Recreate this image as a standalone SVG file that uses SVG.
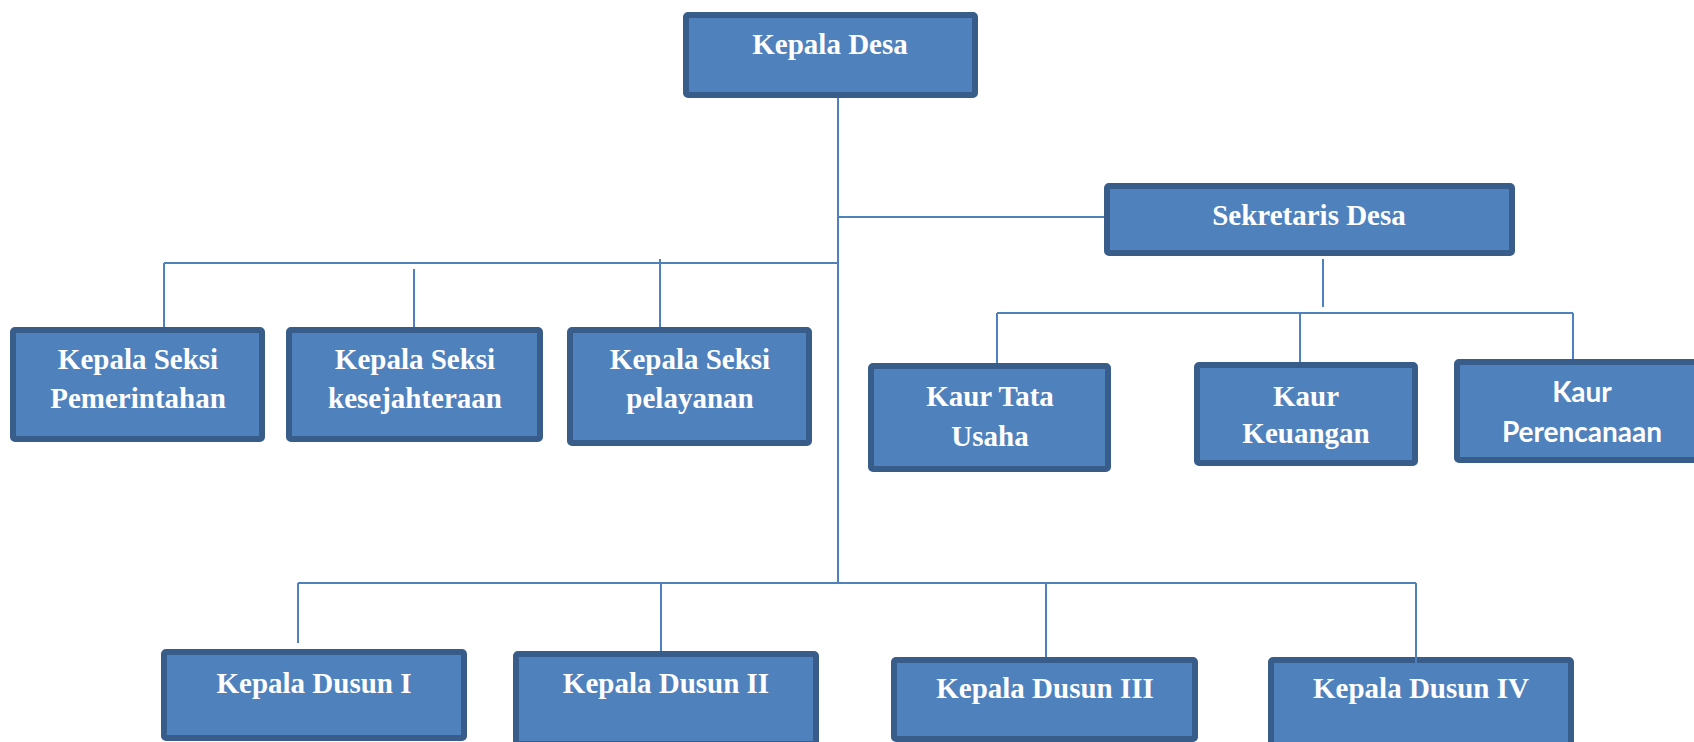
<svg xmlns="http://www.w3.org/2000/svg" width="1694" height="742" viewBox="0 0 1694 742">
<style>
.box{fill:#4F81BD;stroke:#385D8A;stroke-width:6;}
.t{font-family:"Liberation Serif","Times New Roman",serif;font-weight:bold;font-size:29px;fill:#FFFFFF;text-anchor:middle;}
.s{font-family:Lato,"Liberation Sans",sans-serif;font-weight:bold;font-size:28px;fill:#FFFFFF;text-anchor:middle;}
.c{stroke:#4F81BD;stroke-width:2;fill:none;}
</style>
<rect width="1694" height="742" fill="#FFFFFF"/>
<g id="kepala-desa"><rect class="box" x="686" y="15" width="289" height="80" rx="2"/><text class="t" x="830" y="54">Kepala Desa</text></g>
<g id="sekretaris-desa"><rect class="box" x="1107" y="186" width="405" height="67" rx="2"/><text class="t" x="1309" y="225">Sekretaris Desa</text></g>
<g id="seksi-pemerintahan"><rect class="box" x="13" y="330" width="249" height="109" rx="2"/><text class="t" x="138" y="369">Kepala Seksi</text><text class="t" x="138" y="408">Pemerintahan</text></g>
<g id="seksi-kesejahteraan"><rect class="box" x="289" y="330" width="251" height="109" rx="2"/><text class="t" x="415" y="369">Kepala Seksi</text><text class="t" x="415" y="408">kesejahteraan</text></g>
<g id="seksi-pelayanan"><rect class="box" x="570" y="330" width="239" height="113" rx="2"/><text class="t" x="690" y="369">Kepala Seksi</text><text class="t" x="690" y="408">pelayanan</text></g>
<g id="kaur-tata-usaha"><rect class="box" x="871" y="366" width="237" height="103" rx="2"/><text class="t" x="990" y="406">Kaur Tata</text><text class="t" x="990" y="446">Usaha</text></g>
<g id="kaur-keuangan"><rect class="box" x="1197" y="365" width="218" height="98" rx="2"/><text class="t" x="1306" y="406">Kaur</text><text class="t" x="1306" y="443">Keuangan</text></g>
<g id="kaur-perencanaan"><rect class="box" x="1457" y="362" width="250" height="98" rx="2"/><text class="s" x="1582" y="402">Kaur</text><text class="s" x="1582" y="442">Perencanaan</text></g>
<g id="dusun-1"><rect class="box" x="164" y="652" width="300" height="86" rx="2"/><text class="t" x="314" y="693">Kepala Dusun I</text></g>
<g id="dusun-2"><rect class="box" x="516" y="654" width="300" height="90" rx="2"/><text class="t" x="666" y="693">Kepala Dusun II</text></g>
<g id="dusun-3"><rect class="box" x="894" y="660" width="301" height="79" rx="2"/><text class="t" x="1045" y="698">Kepala Dusun III</text></g>
<g id="dusun-4"><rect class="box" x="1271" y="660" width="300" height="90" rx="2"/><text class="t" x="1421" y="698">Kepala Dusun IV</text></g>
<g id="connectors">
<path class="c" d="M838 98 V583"/>
<path class="c" d="M838 217 H1104"/>
<path class="c" d="M164 263 H838"/>
<path class="c" d="M164 263 V327"/>
<path class="c" d="M414 269 V327"/>
<path class="c" d="M660 259 V327"/>
<path class="c" d="M1323 259 V307"/>
<path class="c" d="M997 313 H1573"/>
<path class="c" d="M997 313 V363"/>
<path class="c" d="M1300 313 V362"/>
<path class="c" d="M1573 313 V359"/>
<path class="c" d="M298 583 H1416"/>
<path class="c" d="M298 583 V643"/>
<path class="c" d="M661 583 V651"/>
<path class="c" d="M1046 583 V657"/>
<path class="c" d="M1416 583 V677"/>
</g>
</svg>
